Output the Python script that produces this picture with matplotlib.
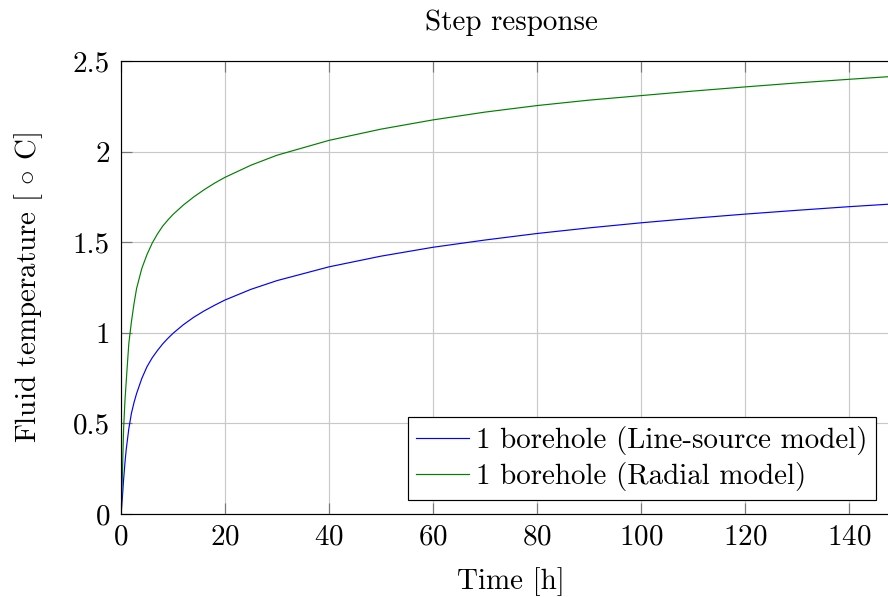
import matplotlib
matplotlib.use("Agg")
import matplotlib.pyplot as plt

# values
time_h = [0, 0.1, 0.25, 0.5, 0.75, 1, 1.5, 2, 2.5, 3, 4, 5, 6, 7, 8, 9, 10,
          12, 14, 16, 18, 20, 25, 30, 40, 50, 60, 70, 80, 90, 100, 110, 120,
          130, 140, 150]
line_source = [0, 0.03, 0.085, 0.19, 0.28, 0.355, 0.47, 0.555, 0.615, 0.665,
               0.748, 0.813, 0.862, 0.902, 0.938, 0.969, 0.997, 1.045, 1.086,
               1.121, 1.152, 1.181, 1.240, 1.288, 1.364, 1.423, 1.472, 1.512,
               1.548, 1.579, 1.607, 1.632, 1.655, 1.676, 1.696, 1.714]
radial = [0, 0.08, 0.2, 0.47, 0.62, 0.73, 0.94, 1.06, 1.16, 1.245, 1.355,
          1.432, 1.495, 1.545, 1.588, 1.622, 1.653, 1.705, 1.75, 1.79, 1.826,
          1.858, 1.925, 1.98, 2.062, 2.124, 2.175, 2.218, 2.254, 2.284, 2.309,
          2.334, 2.357, 2.379, 2.399, 2.418]
labels = ["1 borehole (Line-source model)", "1 borehole (Radial model)"]
colors = ["#0000ff", "#008000"]

plt.rcParams["font.family"] = "cmr10"
plt.rcParams["mathtext.fontset"] = "cm"
plt.rcParams["axes.formatter.use_mathtext"] = True
plt.rcParams["font.size"] = 20.9

fig = plt.figure(figsize=(8.88, 5.97), dpi=100)
# right spine sits just outside the picture, as in the reference
ax = fig.add_axes([121 / 888, 83 / 597, 780 / 888, 453 / 597])

for ys, lab, c in zip([line_source, radial], labels, colors):
    ax.plot(time_h, ys, color=c, lw=0.85, label=lab)

ax.set_xlim(0, 150)
ax.set_ylim(0, 2.5)
ax.set_xticks(range(0, 160, 20))
ax.set_yticks([0, 0.5, 1, 1.5, 2, 2.5])
ax.set_yticklabels(["0", "0.5", "1", "1.5", "2", "2.5"])

ax.grid(True, color="#c8c8c8", lw=0.85)
ax.set_axisbelow(True)
ax.tick_params(direction="in", top=True, right=True, length=8, width=0.85,
               color="#777777")
ax.tick_params(axis="x", pad=7)
ax.tick_params(axis="y", pad=8)
for sp in ax.spines.values():
    sp.set_linewidth(0.85)

ax.set_title("Step response", pad=22, fontsize=20.9)
ax.set_xlabel("Time [h]", labelpad=12)
ax.set_ylabel(r"Fluid temperature [ $\circ$ C]", labelpad=20)

leg = ax.legend(loc="lower right", bbox_to_anchor=(0.968, 0.031),
                fancybox=False, edgecolor="black", framealpha=1,
                handlelength=1.8, handletextpad=0.25, borderpad=0.3,
                labelspacing=0.25, borderaxespad=0)
leg.get_frame().set_linewidth(0.85)

fig.savefig("out.png", dpi=100)
